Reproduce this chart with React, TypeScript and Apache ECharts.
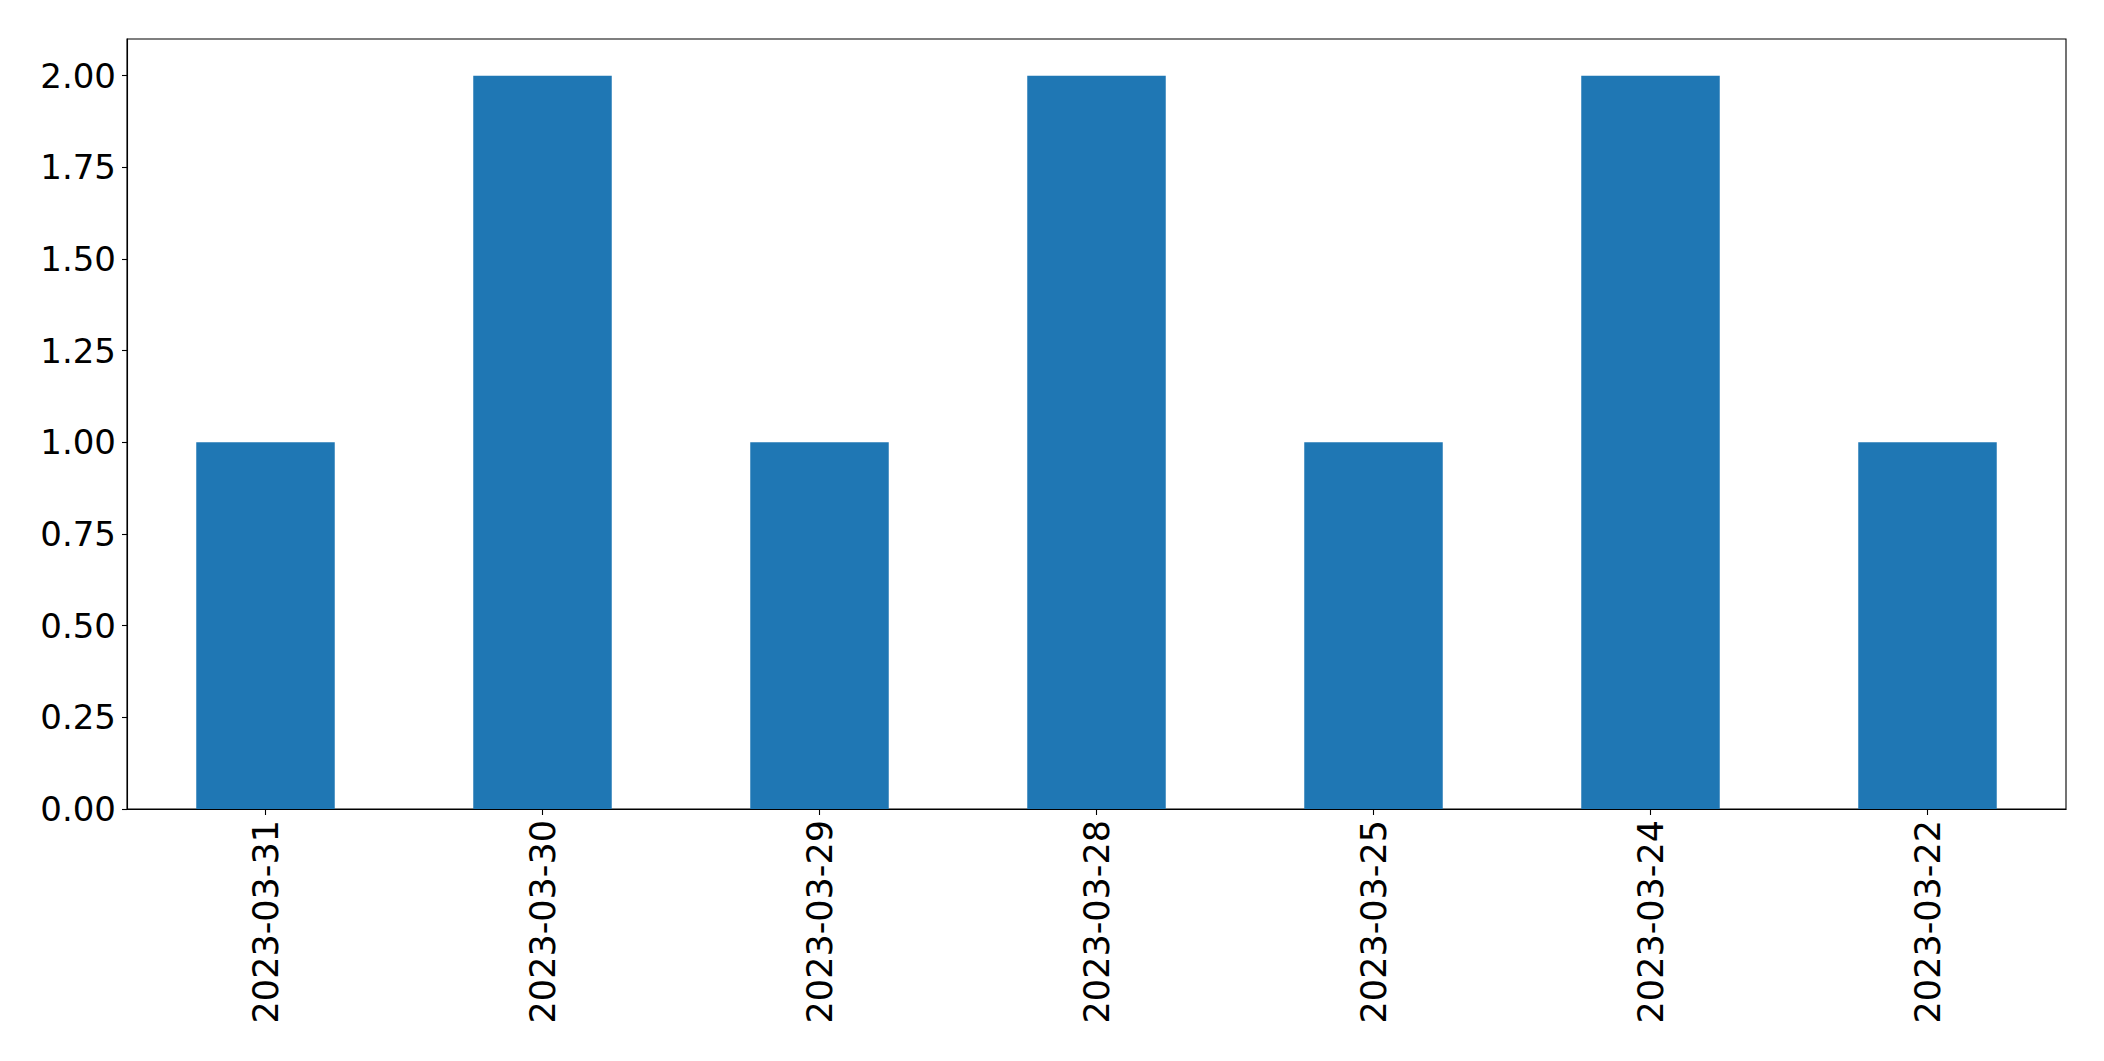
import React, { useEffect, useRef } from "react";
import * as echarts from "echarts";

const categories = ["2023-03-31", "2023-03-30", "2023-03-29", "2023-03-28", "2023-03-25", "2023-03-24", "2023-03-22"];
const values = [1, 2, 1, 2, 1, 2, 1];
const yMin = 0;
const yMax = 2.1;
const yInterval = 0.25;

export default function App() {
  const ref = useRef<HTMLDivElement>(null);
  useEffect(() => {
    document.body.style.margin = "0";
    const chart = echarts.init(ref.current!, null, { renderer: "svg" });
    const font = "DejaVu Sans";
    chart.setOption({
      animation: false,
      backgroundColor: "#ffffff",
      grid: {
        left: 127,
        right: 38,
        top: 39,
        bottom: 252,
        show: true,
        borderColor: "#000000",
        borderWidth: 1.1,
        backgroundColor: "transparent",
      },
      xAxis: {
        type: "category",
        data: categories,
        axisLine: { show: true, lineStyle: { color: "#000000", width: 1.1 } },
        axisTick: { show: true, alignWithLabel: true, length: 6, lineStyle: { color: "#000000", width: 1.1 } },
        axisLabel: {
          rotate: 90,
          margin: 11,
          fontSize: 35,
          fontFamily: font,
          color: "#000000",
        },
        splitLine: { show: false },
      },
      yAxis: {
        type: "value",
        min: yMin,
        max: yMax,
        interval: yInterval,
        axisLine: { show: true, lineStyle: { color: "#000000", width: 1.1 } },
        axisTick: { show: true, length: 5, lineStyle: { color: "#000000", width: 1.1 } },
        axisLabel: {
          margin: 11,
          fontSize: 34,
          fontFamily: font,
          color: "#000000",
          showMaxLabel: false,
          formatter: (v: number) => v.toFixed(2),
        },
        splitLine: { show: false },
      },
      series: [
        {
          type: "bar",
          data: values,
          barWidth: "50%",
          itemStyle: { color: "#1f77b4" },
        },
      ],
    });
    return () => chart.dispose();
  }, []);
  return <div ref={ref} style={{ position: "fixed", left: 0, top: 0, width: 2104, height: 1061 }} />;
}
